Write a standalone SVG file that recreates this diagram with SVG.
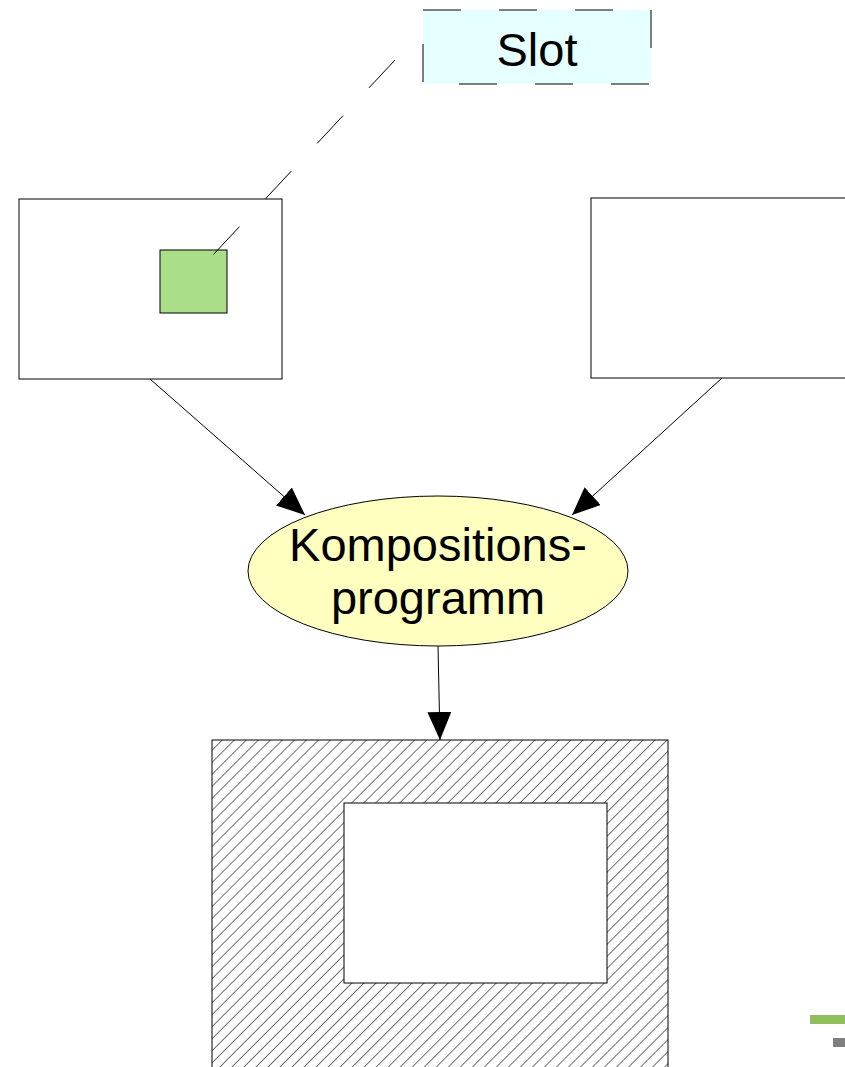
<svg xmlns="http://www.w3.org/2000/svg" width="845" height="1067" viewBox="0 0 845 1067">
<style>
.box{fill:#fff;stroke:#000;stroke-width:1}
.lbl{font-family:"Liberation Sans",Arial,sans-serif;fill:#000;text-anchor:middle}
.edge{stroke:#000;stroke-width:1;fill:none}
</style>
<defs>
<pattern id="hatch" patternUnits="userSpaceOnUse" width="8.5" height="8.5" patternTransform="rotate(45)">
<line x1="0" y1="0" x2="0" y2="8.5" stroke="#000" stroke-width="1.1"/>
</pattern>
<marker id="arr" viewBox="0 0 28 24" refX="28" refY="12" markerWidth="28" markerHeight="24" markerUnits="userSpaceOnUse" orient="auto">
<path d="M0,0 L28,12 L0,24 Z" fill="#000"/>
</marker>
</defs>
<rect width="845" height="1067" fill="#fff"/>
<g id="slot">
<rect x="423" y="10" width="228" height="74" fill="#e6ffff" stroke="none"/>
<rect x="423" y="10" width="228" height="74" fill="none" stroke="#000" stroke-dasharray="38,38" stroke-dashoffset="0" stroke-width="1"/>
<text class="lbl" x="537" y="66" font-size="47">Slot</text>
</g>
<g id="left-frame">
<rect class="box" x="19" y="199" width="263" height="180"/>
<rect x="160" y="250" width="67" height="63" fill="#aade88" stroke="#000" stroke-width="1"/>
</g>
<g id="right-frame">
<rect class="box" x="591" y="198" width="260" height="180"/>
</g>
<g id="composer">
<ellipse cx="438" cy="571" rx="190" ry="75" fill="#ffffc0" stroke="#000" stroke-width="1"/>
<text class="lbl" x="438" y="561" font-size="47">Kompositions-</text>
<text class="lbl" x="438" y="614" font-size="47">programm</text>
</g>
<g id="result">
<rect x="212" y="740" width="456" height="340" fill="url(#hatch)" stroke="#000" stroke-width="1"/>
<rect class="box" x="344" y="803" width="263" height="180"/>
</g>
<g id="connectors">
<line class="edge" x1="395" y1="60" x2="213" y2="255" stroke-dasharray="38,38"/>
<line class="edge" x1="150" y1="379" x2="305" y2="515" marker-end="url(#arr)"/>
<line class="edge" x1="722" y1="378" x2="572" y2="515" marker-end="url(#arr)"/>
<line class="edge" x1="438" y1="646" x2="440" y2="740" marker-end="url(#arr)"/>
</g>
<g id="deco">
<rect x="810" y="1015" width="35" height="9" fill="#8fbf5a"/>
<rect x="833" y="1038" width="12" height="9" fill="#808080"/>
</g>
</svg>
